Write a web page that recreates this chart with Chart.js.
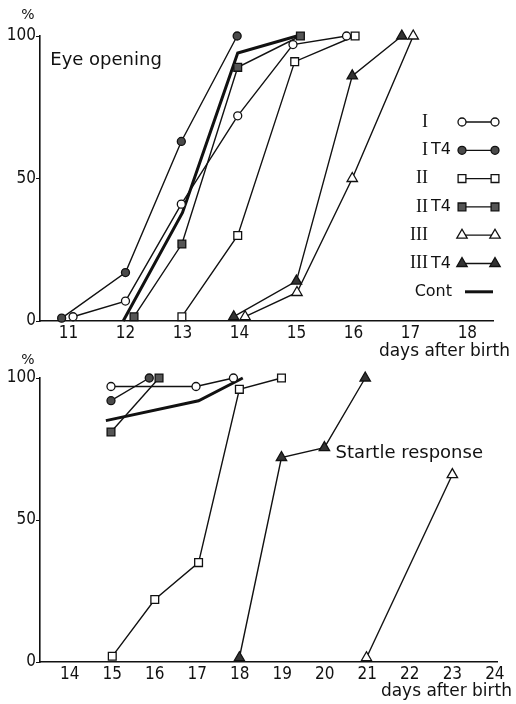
<!DOCTYPE html>
<html>
<head>
<meta charset="utf-8">
<script src="https://cdn.jsdelivr.net/npm/chart.js@4.4.0/dist/chart.umd.min.js"></script>
<style>
  html, body { margin: 0; padding: 0; background: #fff; }
  #wrap { position: relative; width: 516px; height: 704px; }
  canvas { position: absolute; left: 0; }
  #chartEye { top: 0; }
  #chartStartle { top: 345px; }
</style>
</head>
<body>
<div id="wrap">
  <canvas id="chartEye" width="516" height="360" style="width:516px;height:360px"></canvas>
  <canvas id="chartStartle" width="516" height="359" style="width:516px;height:359px"></canvas>
</div>
<script>
// =======================
// Datos (días después del nacimiento, %)
const eyeTicks = [11, 12, 13, 14, 15, 16, 17, 18];
const startleTicks = [14, 15, 16, 17, 18, 19, 20, 21, 22, 23, 24];
const pctTicks = [0, 50, 100];

// Eye opening
const eyeI = [[11.08, 1.5], [12.0, 7], [12.98, 41], [13.97, 72], [14.94, 97], [15.88, 100]];
const eyeIT4 = [[10.88, 1], [12.0, 17], [12.98, 63], [13.96, 100]];
const eyeII = [[12.99, 1.5], [13.97, 30], [14.97, 91], [16.03, 100]];
const eyeIIT4 = [[12.15, 1.5], [12.99, 27], [13.97, 89], [15.07, 100]];
const eyeIII = [[14.1, 1.5], [15.01, 10], [15.98, 50], [17.05, 100]];
const eyeIIIT4 = [[13.9, 1.5], [15.0, 14], [15.98, 86], [16.85, 100]];
const eyeCont = [[11.96, 0], [13.0, 38], [13.97, 94], [15.01, 100]];

// Startle response
const stI = [[14.97, 97], [16.97, 97], [17.85, 100]];
const stIT4 = [[14.97, 92], [15.87, 100]];
const stII = [[15.0, 2], [16.0, 22], [17.03, 35], [17.99, 96], [18.98, 100]];
const stIIT4 = [[14.97, 81], [16.1, 100]];
const stIII = [[20.98, 1.5], [23.0, 66]];
const stIIIT4 = [[17.99, 1.5], [18.98, 72], [19.99, 75.5], [20.95, 100]];
const stCont = [[14.85, 85], [17.03, 92], [18.07, 100]];

// =======================
// Estilos de marcadores
const styles = {
  I: { pointStyle: "circle", fill: "#fff", radius: 4 },
  IT4: { pointStyle: "circle", fill: "#4a4a4a", radius: 4 },
  II: { pointStyle: "rect", fill: "#fff", radius: 5.5 },
  IIT4: { pointStyle: "rect", fill: "#555", radius: 5.5 },
  III: { pointStyle: "triangle", fill: "#fff", radius: 6 },
  IIIT4: { pointStyle: "triangle", fill: "#333", radius: 6 },
};

const tickFont = { family: "'DejaVu Sans Condensed', 'DejaVu Sans'", size: 17 };

const toXY = (arr) => arr.map(([x, y]) => ({ x, y }));

const series = (label, roman, t4, arr, key) => ({
  label,
  roman,
  t4,
  data: toXY(arr),
  borderColor: "#111",
  borderWidth: 1.4,
  pointStyle: styles[key].pointStyle,
  pointRadius: styles[key].radius,
  pointBackgroundColor: styles[key].fill,
  pointBorderColor: "#111",
  pointBorderWidth: 1.3,
  tension: 0,
  clip: false,
});

const contSeries = (arr) => ({
  label: "Cont",
  data: toXY(arr),
  borderColor: "#111",
  borderWidth: 3,
  pointRadius: 0,
  tension: 0,
  clip: false,
});

// =======================
// Plugin: textos y leyenda
const notesPlugin = {
  id: "notes",
  afterDraw(chart, args, opts) {
    const ctx = chart.ctx;
    const xs = chart.scales.x;
    const ys = chart.scales.y;
    ctx.save();
    ctx.fillStyle = "#111";
    ctx.textBaseline = "middle";

    // "%"
    ctx.font = "14px 'DejaVu Sans'";
    ctx.textAlign = "center";
    ctx.fillText("%", 28, opts.pctY);

    // Título del panel
    ctx.font = "18px 'DejaVu Sans'";
    ctx.textAlign = "left";
    ctx.fillText(opts.title, xs.getPixelForValue(opts.titleAt[0]), ys.getPixelForValue(opts.titleAt[1]));

    // Título eje x
    ctx.font = "17px 'DejaVu Sans'";
    ctx.textAlign = "right";
    ctx.fillText("days after birth", opts.axisTitle[0], opts.axisTitle[1]);

    // Leyenda
    if (opts.legend) {
      const { top, step, romanRight, sampleL, sampleR } = opts.legend;
      chart.data.datasets.forEach((ds, i) => {
        const y = top + i * step;
        ctx.fillStyle = "#111";
        if (ds.roman) {
          ctx.font = "18px 'Liberation Serif'";
          ctx.textAlign = "right";
          ctx.fillText(ds.roman, romanRight, y);
          if (ds.t4) {
            ctx.font = "16px 'DejaVu Sans'";
            ctx.textAlign = "left";
            ctx.fillText("T4", romanRight + 3, y);
          }
          ctx.strokeStyle = "#111";
          ctx.lineWidth = 1.3;
          ctx.beginPath();
          ctx.moveTo(sampleL, y);
          ctx.lineTo(sampleR, y);
          ctx.stroke();
          ctx.fillStyle = ds.pointBackgroundColor;
          const p = { pointStyle: ds.pointStyle, radius: ds.pointRadius, rotation: 0, borderWidth: 1.3 };
          Chart.helpers.drawPoint(ctx, p, sampleL, y);
          Chart.helpers.drawPoint(ctx, p, sampleR, y);
        } else {
          ctx.font = "16px 'DejaVu Sans'";
          ctx.textAlign = "right";
          ctx.fillText(ds.label, romanRight + 24, y);
          ctx.strokeStyle = "#111";
          ctx.lineWidth = 3;
          ctx.beginPath();
          ctx.moveTo(sampleL + 3, y);
          ctx.lineTo(sampleR - 2, y);
          ctx.stroke();
        }
      });
    }
    ctx.restore();
  },
};

// =======================
// Opciones comunes
const makeOptions = (xMin, xMax, xTicks, pad, xHeight, notes) => ({
  responsive: false,
  animation: false,
  events: [],
  layout: { padding: { left: 0, right: pad.right, top: pad.top, bottom: 0 } },
  plugins: { legend: { display: false }, tooltip: { enabled: false }, notes },
  scales: {
    x: {
      type: "linear",
      min: xMin,
      max: xMax,
      afterBuildTicks: (s) => { s.ticks = xTicks.map((v) => ({ value: v })); },
      afterFit: (s) => { s.height = xHeight; },
      grid: { display: false, drawTicks: false },
      border: { display: true, color: "#111", width: 1.6 },
      ticks: { color: "#111", padding: 2, font: tickFont },
    },
    y: {
      min: 0,
      max: 100,
      afterBuildTicks: (s) => { s.ticks = pctTicks.map((v) => ({ value: v })); },
      afterFit: (s) => { s.width = 40; },
      grid: { drawOnChartArea: false, drawTicks: true, tickLength: 4, color: "#111" },
      border: { display: true, color: "#111", width: 1.6 },
      ticks: { color: "#111", padding: 0, font: tickFont },
    },
  },
});

// =======================
// Gráfico 1: Eye opening
new Chart(document.getElementById("chartEye"), {
  type: "line",
  data: {
    datasets: [
      series("I", "I", false, eyeI, "I"),
      series("I T4", "I", true, eyeIT4, "IT4"),
      series("II", "II", false, eyeII, "II"),
      series("II T4", "II", true, eyeIIT4, "IIT4"),
      series("III", "III", false, eyeIII, "III"),
      series("III T4", "III", true, eyeIIIT4, "IIIT4"),
      contSeries(eyeCont),
    ],
  },
  options: makeOptions(10.5, 18.45, eyeTicks, { right: 23, top: 36 }, 39, {
    pctY: 15,
    title: "Eye opening",
    titleAt: [10.68, 91.5],
    axisTitle: [510, 352],
    legend: { top: 122, step: 28.3, romanRight: 428, sampleL: 462, sampleR: 495 },
  }),
  plugins: [notesPlugin],
});

// =======================
// Gráfico 2: Startle response
new Chart(document.getElementById("chartStartle"), {
  type: "line",
  data: {
    datasets: [
      series("I", "I", false, stI, "I"),
      series("I T4", "I", true, stIT4, "IT4"),
      series("II", "II", false, stII, "II"),
      series("II T4", "II", true, stIIT4, "IIT4"),
      series("III", "III", false, stIII, "III"),
      series("III T4", "III", true, stIIIT4, "IIIT4"),
      contSeries(stCont),
    ],
  },
  options: makeOptions(13.3, 24.05, startleTicks, { right: 19, top: 33 }, 42, {
    pctY: 15,
    title: "Startle response",
    titleAt: [20.25, 73.5],
    axisTitle: [512, 347],
    legend: null,
  }),
  plugins: [notesPlugin],
});
</script>
</body>
</html>
